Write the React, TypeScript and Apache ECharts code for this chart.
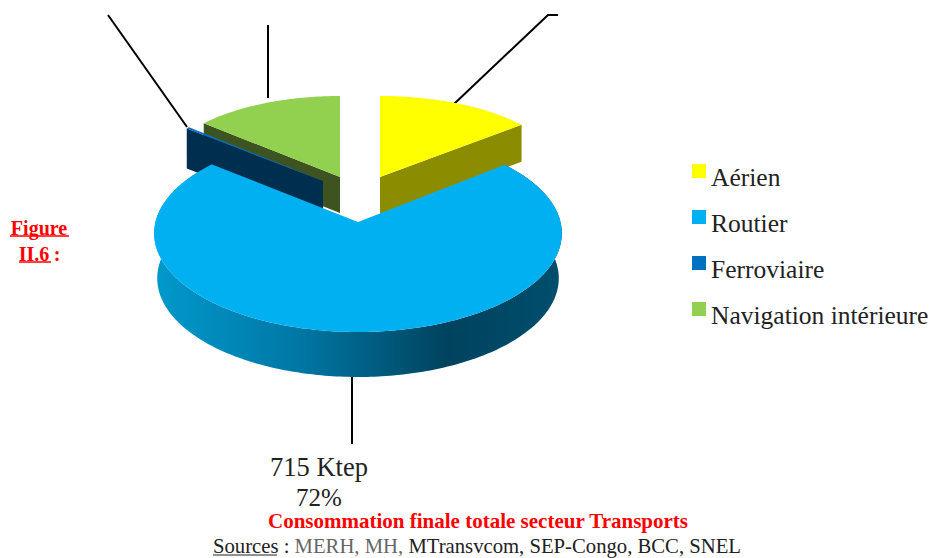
import React, { useEffect, useRef } from "react";
import * as echarts from "echarts";

const categories = ["Aérien", "Routier", "Ferroviaire", "Navigation intérieure"];
const ktep = [137, 715, 3, 133];
const colors = ["#FFFF00", "#00B0F0", "#0070C0", "#92D050"];
const sideColors = ["#8C8C00", "#004A68", "#002E4F", "#3E5420"];
const routierLabel = ["715 Ktep", "72%"];
const titleText = "Consommation finale totale secteur Transports";
const figureLabel = ["Figure", "II.6"];

const FONT = '"Liberation Serif", serif';
const total = ktep.reduce((a, b) => a + b, 0);
const ranges: number[][] = [];
let acc = 0;
ktep.forEach((v) => {
  const s = (acc / total) * 360;
  acc += v;
  ranges.push([s, (acc / total) * 360]);
});

type Geo = { ax: number; ay: number; cx: number; cy: number; rx: number; ry: number; p: number; depth: number };
const geo: Geo[] = [
  { ax: 380, ay: 177, cx: 380, cy: 177, rx: 185, ry: 81, p: 0, depth: 37 },
  { ax: 358, ay: 222, cx: 358, cy: 224.4, rx: 203, ry: 97.9, p: 0.09, depth: 45 },
  { ax: 323, ay: 181, cx: 323, cy: 181, rx: 179, ry: 81, p: 0, depth: 40 },
  { ax: 340, ay: 177, cx: 340, cy: 177, rx: 182, ry: 81, p: 0, depth: 36 },
];

function rim(g: Geo, deg: number, dy = 0, k = 1): number[] {
  const t = (deg * Math.PI) / 180;
  const s = 1 / (1 + g.p * Math.cos(t));
  return [g.cx + g.rx * k * Math.sin(t) * s, g.cy - g.ry * Math.cos(t) * s + dy];
}

function arc(g: Geo, a: number, b: number, dy = 0, k = 1): number[][] {
  const pts: number[][] = [];
  const n = Math.max(2, Math.ceil(Math.abs(b - a)));
  for (let i = 0; i <= n; i++) pts.push(rim(g, a + ((b - a) * i) / n, dy, k));
  return pts;
}

function makeRender(idx: number) {
  return () => {
    const g = geo[idx];
    const [a, b] = ranges[idx];
    const children: any[] = [];
    if (idx === 1) {
      children.push({
        type: "polygon",
        shape: { points: [...arc(g, a, b), ...arc(g, a, b, g.depth, 0.985).reverse()] },
        style: {
          fill: new echarts.graphic.LinearGradient(0, 0, 1, 0, [
            { offset: 0, color: "#0099CC" },
            { offset: 0.35, color: "#0078A6" },
            { offset: 0.72, color: "#00435E" },
            { offset: 1, color: "#004E6E" },
          ]),
        },
      });
    } else {
      const edge = idx === 0 ? b : a;
      const p = rim(g, edge);
      children.push({
        type: "polygon",
        shape: { points: [[g.ax, g.ay], p, [p[0], p[1] + g.depth], [g.ax, g.ay + g.depth]] },
        style: { fill: sideColors[idx] },
      });
    }
    children.push({
      type: "polygon",
      shape: { points: [[g.ax, g.ay], ...arc(g, a, b)] },
      style: { fill: colors[idx] },
    });
    return { type: "group", children };
  };
}

const zOrder = [4, 5, 3, 2];

const leaderLines = [
  [[108, 15], [187, 127]],
  [[268, 25], [268, 98]],
  [[558, 15], [548, 15], [454, 104]],
  [[352, 377], [352, 444]],
];

const txt = (text: string, x: number, y: number, fontSize: number, fill: string, fontWeight = "normal", textAlign = "center") => ({
  type: "text",
  x,
  y,
  style: { text, fontSize, fill, fontWeight, fontFamily: FONT, textAlign, textVerticalAlign: "middle" },
});
const uline = (x1: number, x2: number, y: number, stroke: string, lineWidth = 1.5) => ({
  type: "line",
  shape: { x1, y1: y, x2, y2: y },
  style: { stroke, lineWidth },
});

export default function App() {
  const ref = useRef<HTMLDivElement>(null);
  useEffect(() => {
    const chart = echarts.init(ref.current!, undefined, { renderer: "svg" });
    chart.setOption({
      animation: false,
      backgroundColor: "#fff",
      legend: {
        show: true,
        orient: "vertical",
        left: 692,
        top: 164,
        padding: 0,
        data: categories,
        icon: "rect",
        itemWidth: 14,
        itemHeight: 14,
        itemGap: 20,
        selectedMode: false,
        formatter: (n: string) => `{a|${n}}`,
        textStyle: {
          fontFamily: FONT,
          fontSize: 25.5,
          color: "#222",
          rich: { a: { fontFamily: FONT, fontSize: 25.5, color: "#222", padding: [12, 0, 0, 0] } },
        },
      },
      series: categories.map((name, i) => ({
        type: "custom",
        name,
        coordinateSystem: "none",
        z: zOrder[i],
        silent: true,
        itemStyle: { color: colors[i] },
        data: [[ktep[i]]],
        renderItem: makeRender(i),
      })),
      graphic: [
        ...leaderLines.map((points) => ({
          type: "polyline",
          z: 1,
          shape: { points },
          style: { stroke: "#000", lineWidth: 2, fill: "none" },
        })),
        txt(routierLabel[0], 319, 467, 26.5, "#222"),
        txt(routierLabel[1], 319, 497, 25, "#222"),
        txt(titleText, 478, 521, 21, "#FF0000", "bold"),
        {
          type: "text",
          x: 213,
          y: 546,
          style: {
            text: "{a|Sources} {a|:} {b|MERH, MH,} {a|MTransvcom, SEP-Congo, BCC, SNEL}",
            fontFamily: FONT,
            fontSize: 20.7,
            textVerticalAlign: "middle",
            rich: {
              a: { fontFamily: FONT, fontSize: 20.7, fill: "#222" },
              b: { fontFamily: FONT, fontSize: 20.7, fill: "#666" },
            },
          },
        },
        uline(213, 277, 555, "#222", 1),
        txt(figureLabel[0], 39, 228, 20, "#FF0000", "bold"),
        uline(10, 69, 236, "#FF0000"),
        txt(figureLabel[1], 34, 254, 20, "#FF0000", "bold"),
        txt(":", 57, 254, 20, "#FF0000", "bold"),
        uline(19, 51, 262, "#FF0000"),
      ],
    });
    return () => chart.dispose();
  }, []);
  return <div ref={ref} style={{ position: "fixed", left: 0, top: 0, width: 933, height: 558 }} />;
}
